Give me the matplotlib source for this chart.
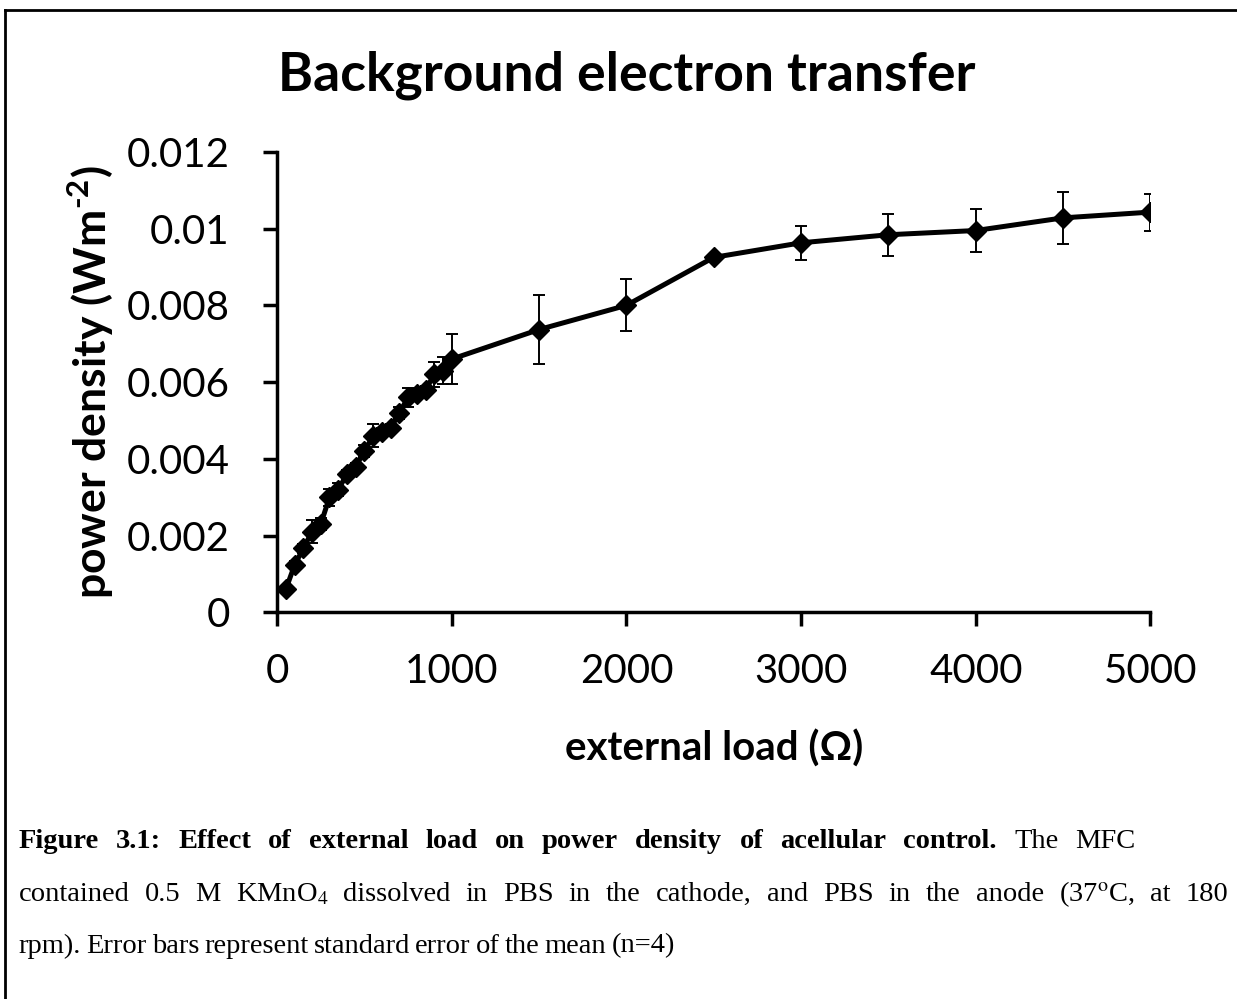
import matplotlib.pyplot as plt
from matplotlib.lines import Line2D

# external load (ohm) and power density (W m^-2)
load = [50, 100, 150, 200, 250, 300, 350, 400, 450, 500,
        550, 600, 650, 700, 750, 800, 850, 900, 950, 1000,
        1500, 2000, 2500, 3000, 3500, 4000, 4500, 5000]
power = [0.0006, 0.00123, 0.00167, 0.0021, 0.0023, 0.0030, 0.0032, 0.0036, 0.0038, 0.0042,
         0.0046, 0.0047, 0.0048, 0.0052, 0.0056, 0.0057, 0.0058, 0.0062, 0.0063, 0.0066,
         0.00737, 0.0080, 0.00925, 0.00963, 0.00984, 0.00995, 0.01028, 0.01043]
sem = [0.0001, 0.0001, 0.00012, 0.0003, 0.00015, 0.00022, 0.00018, 0.00012, 0.0001, 0.00015,
       0.0003, 0.0001, 0.00012, 0.00015, 0.00025, 0.00012, 0.0001, 0.00032, 0.00035, 0.00065,
       0.0009, 0.00068, 0.0, 0.00045, 0.00055, 0.00056, 0.00068, 0.00048]

xticks = [0, 1000, 2000, 3000, 4000, 5000]
yticks = [0, 0.002, 0.004, 0.006, 0.008, 0.01, 0.012]
ytick_labels = ['0', '0.002', '0.004', '0.006', '0.008', '0.01', '0.012']

# caption lines: list of (text, bold) pieces; first two lines are justified
caption = [
    ([('Figure 3.1: Effect of external load on power density of acellular control.', True),
      ('The MFC', False)], 0.918),
    ([(r'contained 0.5 M KMnO$_4$ dissolved in PBS in the cathode, and PBS in the anode '
       r'(37$^\mathrm{o}$C, at 180', False)], 0.993),
    ([('rpm). Error bars represent standard error of the mean (n=4)', False)], None),
]

plt.rcParams['font.family'] = ['Lato', 'DejaVu Sans']
plt.rcParams['mathtext.fontset'] = 'custom'
plt.rcParams['mathtext.bf'] = 'Lato:bold'
plt.rcParams['mathtext.rm'] = 'Lato:bold'

fig = plt.figure(figsize=(12.37, 9.99), dpi=100)
ax = fig.add_axes([0.224, 0.387, 0.706, 0.461])

ax.errorbar(load, power, yerr=sem, color='black', lw=3.6, marker='D', ms=10.5,
            ecolor='black', elinewidth=1.4, capsize=4.5, capthick=1.4, zorder=3)

ax.set_xlim(0, 5000)
ax.set_ylim(0, 0.012)
ax.set_xticks(xticks)
ax.set_xticklabels([str(t) for t in xticks])
ax.set_yticks(yticks)
ax.set_yticklabels(ytick_labels)
ax.tick_params(axis='both', labelsize=29, width=2.5, length=10, direction='out')
ax.tick_params(axis='x', pad=19)
ax.tick_params(axis='y', pad=24)
ax.spines['top'].set_visible(False)
ax.spines['right'].set_visible(False)
for s in ['left', 'bottom']:
    ax.spines[s].set_linewidth(2.5)

ax.set_xlabel('external load (\u03a9)', fontsize=29, fontweight='bold', labelpad=29)
ax.set_ylabel(r'power density (Wm$^{\text{-2}}$)', fontsize=32, fontweight='bold', labelpad=8)

fig.text(0.507, 0.925, 'Background electron transfer', ha='center', va='center',
         fontsize=38.5, fontweight='bold')

# caption, Times-like serif, word-justified like the original document
cap_font = 'Liberation Serif'
cap_size = 20.5
x_left = 0.015
line_y = [0.158, 0.105, 0.053]
renderer = fig.canvas.get_renderer()
for (pieces, x_right), y in zip(caption, line_y):
    words = []
    for txt, bold in pieces:
        for w in txt.split(' '):
            words.append((w, bold))
    arts = []
    for w, bold in words:
        t = fig.text(0, y, w, family=cap_font, fontsize=cap_size, va='center',
                     fontweight='bold' if bold else 'normal', math_fontfamily='stix')
        arts.append(t)
    widths = [a.get_window_extent(renderer).width / fig.bbox.width for a in arts]
    space = 0.0042
    if x_right is not None:
        space = (x_right - x_left - sum(widths)) / (len(arts) - 1)
    x = x_left
    for a, w in zip(arts, widths):
        a.set_x(x)
        x += w + space

# frame lines (top and left)
fig.add_artist(Line2D([0.004, 1.0], [0.990, 0.990], color='black', lw=2, transform=fig.transFigure))
fig.add_artist(Line2D([0.004, 0.004], [0.0, 0.990], color='black', lw=2, transform=fig.transFigure))

fig.savefig('out.png', dpi=100)
